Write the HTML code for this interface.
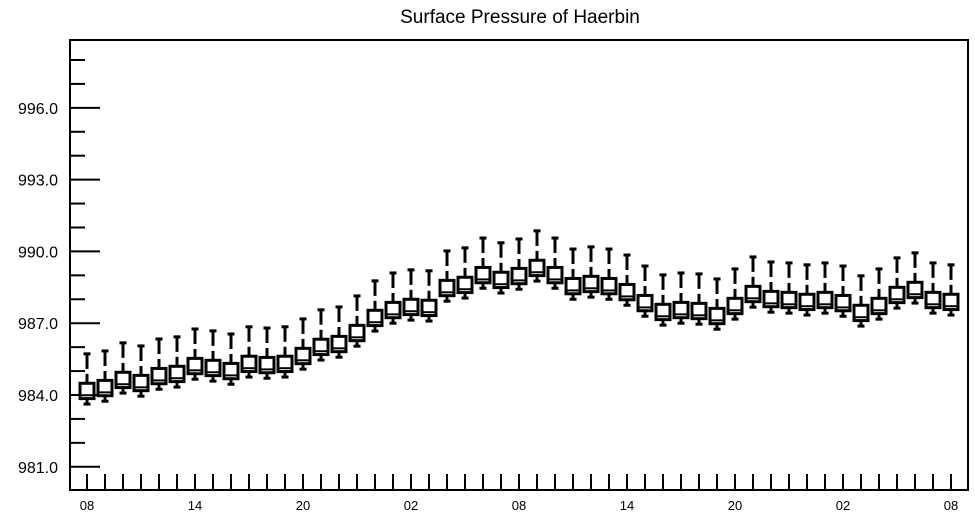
<!DOCTYPE html>
<html><head><meta charset="utf-8"><style>
body{margin:0;background:#fff;}
svg{display:block;font-family:"Liberation Sans",Arial,sans-serif;}
</style></head><body>
<svg id="chart" width="975" height="518" viewBox="0 0 975 518">
<text x="520" y="23" font-size="19" text-anchor="middle">Surface Pressure of Haerbin</text>
<rect x="70" y="40" width="898" height="450" fill="none" stroke="#000" stroke-width="2"/>
<g id="yaxis"></g>
<g id="xaxis"></g>
<g id="boxes"></g>
</svg>
<script>
const xLabels = ["08","14","20","02","08","14","20","02","08"];
const yTickLabels = ["981.0","984.0","987.0","990.0","993.0","996.0"];
const q1 = [983.85,983.97,984.31,984.18,984.47,984.56,984.89,984.81,984.68,984.98,984.93,984.98,985.31,985.69,985.81,986.27,986.90,987.23,987.36,987.32,988.15,988.28,988.69,988.49,988.65,988.99,988.69,988.23,988.32,988.23,987.98,987.52,987.15,987.23,987.19,986.98,987.40,987.90,987.69,987.65,987.57,987.65,987.52,987.11,987.40,987.86,988.07,987.65,987.57];
const q3 = [984.49,984.61,984.95,984.82,985.11,985.20,985.53,985.45,985.32,985.62,985.57,985.62,985.95,986.33,986.45,986.91,987.54,987.87,988.00,987.96,988.79,988.92,989.33,989.13,989.29,989.63,989.33,988.87,988.96,988.87,988.62,988.16,987.79,987.87,987.83,987.62,988.04,988.54,988.33,988.29,988.21,988.29,988.16,987.75,988.04,988.50,988.71,988.29,988.21];
const median = [983.99,984.11,984.45,984.32,984.61,984.70,985.03,984.95,984.82,985.12,985.07,985.12,985.45,985.83,985.95,986.41,987.04,987.37,987.50,987.46,988.29,988.42,988.83,988.63,988.79,989.13,988.83,988.37,988.46,988.37,988.12,987.66,987.29,987.37,987.33,987.12,987.54,988.04,987.83,987.79,987.71,987.79,987.66,987.25,987.54,988.00,988.21,987.79,987.71];
const maxV = [985.72,985.84,986.18,986.05,986.34,986.43,986.76,986.68,986.55,986.85,986.80,986.85,987.18,987.56,987.68,988.14,988.77,989.10,989.23,989.19,990.02,990.15,990.56,990.36,990.52,990.86,990.56,990.10,990.19,990.10,989.85,989.39,989.02,989.10,989.06,988.85,989.27,989.77,989.56,989.52,989.44,989.52,989.39,988.98,989.27,989.73,989.94,989.52,989.44];
const minV = [983.62,983.74,984.08,983.95,984.24,984.33,984.66,984.58,984.45,984.75,984.70,984.75,985.08,985.46,985.58,986.04,986.67,987.00,987.13,987.09,987.92,988.05,988.46,988.26,988.42,988.76,988.46,988.00,988.09,988.00,987.75,987.29,986.92,987.00,986.96,986.75,987.17,987.67,987.46,987.42,987.34,987.42,987.29,986.88,987.17,987.63,987.84,987.42,987.34];

const NS="http://www.w3.org/2000/svg";
function yS(v){return 395-(v-984)*23.93;}
function xS(i){return 87+i*18;}
function mk(tag,attrs,parent){const e=document.createElementNS(NS,tag);for(const k in attrs)e.setAttribute(k,attrs[k]);parent.appendChild(e);return e;}
const ya=document.getElementById('yaxis'),xa=document.getElementById('xaxis'),bx=document.getElementById('boxes');
for(let v=981;v<=998;v++){
  const major=(v-981)%3===0;
  const t=mk('line',{x1:70,x2:major?100:85,y1:yS(v),y2:yS(v),stroke:'#000','stroke-width':2},ya);
  
  
}
yTickLabels.forEach((s,k)=>{
  const t=mk('text',{x:58,y:yS(981+3*k)+6,'font-size':16,'text-anchor':'end'},ya);
  t.textContent=s;
  
  
});
for(let i=0;i<q1.length;i++){
  const t=mk('line',{x1:xS(i),x2:xS(i),y1:490,y2:474,stroke:'#000','stroke-width':2},xa);
  
  
}
xLabels.forEach((s,k)=>{
  const t=mk('text',{x:xS(k*6),y:510,'font-size':13,'text-anchor':'middle'},xa);
  t.textContent=s;
  
  
});
for(let i=0;i<q1.length;i++){
  const g=mk('g',{},bx);
  
  
  const x=xS(i);
  mk('line',{x1:x,x2:x,y1:yS(maxV[i]),y2:yS(q3[i]),stroke:'#000','stroke-width':3,'stroke-dasharray':'15,5'},g);
  mk('line',{x1:x-3.5,x2:x+3.5,y1:yS(maxV[i]),y2:yS(maxV[i]),stroke:'#000','stroke-width':3},g);
  mk('line',{x1:x,x2:x,y1:yS(q1[i]),y2:yS(minV[i]),stroke:'#000','stroke-width':3},g);
  mk('line',{x1:x-3.5,x2:x+3.5,y1:yS(minV[i]),y2:yS(minV[i]),stroke:'#000','stroke-width':3},g);
  mk('rect',{x:x-7,y:yS(q3[i]),width:14,height:yS(q1[i])-yS(q3[i]),fill:'#fff',stroke:'#000','stroke-width':3},g);
  mk('line',{x1:x-7,x2:x+7,y1:yS(median[i]),y2:yS(median[i]),stroke:'#000','stroke-width':2},g);
}
</script>
</body></html>
